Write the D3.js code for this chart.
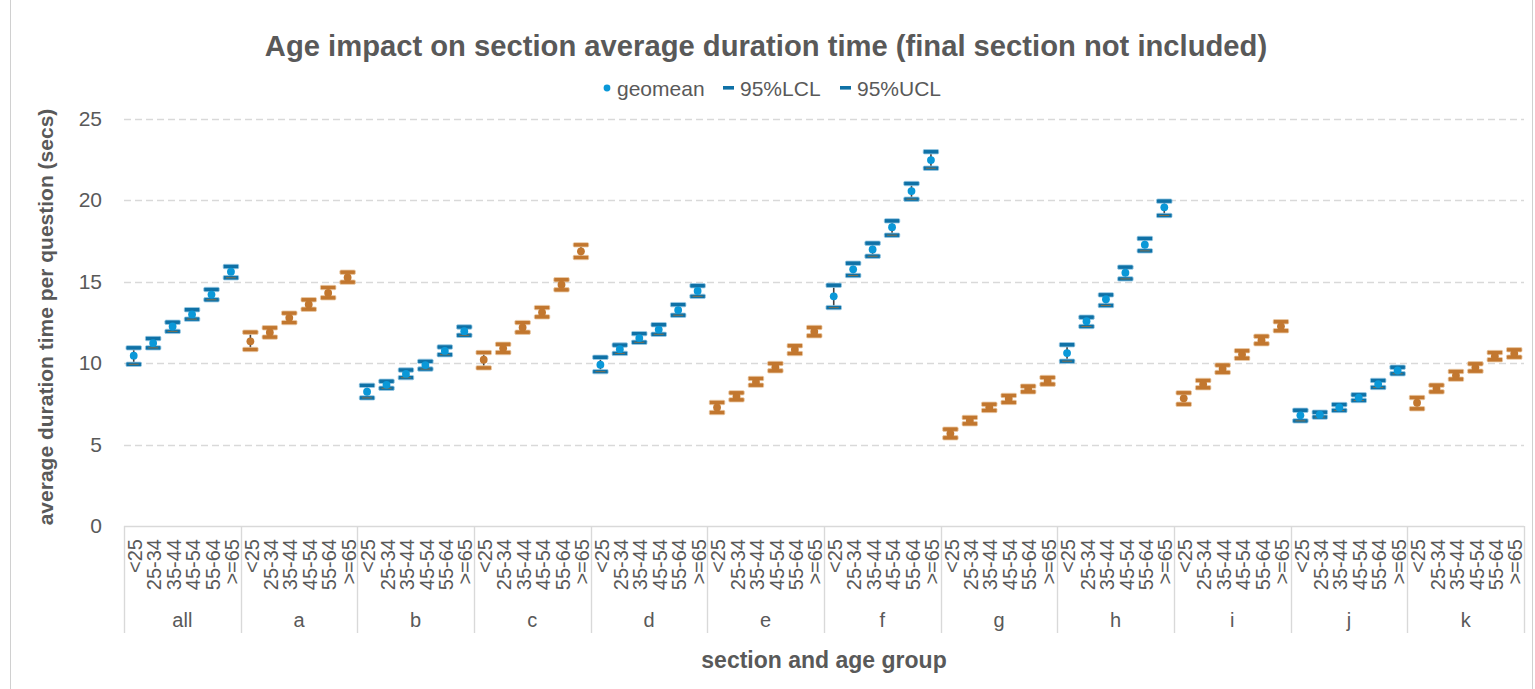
<!DOCTYPE html>
<html>
<head>
<meta charset="utf-8">
<script src="https://cdn.jsdelivr.net/npm/d3@7"></script>
<style>
  html, body { margin: 0; padding: 0; background: #fff; }
  svg { display: block; font-family: "Liberation Sans", Arial, sans-serif; }
</style>
</head>
<body>
<svg id="chart" width="1535" height="689"></svg>
<script>
// Sections and age groups along the category axis
const sections = ["all", "a", "b", "c", "d", "e", "f", "g", "h", "i", "j", "k"];
const ageGroups = ["<25", "25-34", "35-44", "45-54", "55-64", ">=65"];
const yTicks = [0, 5, 10, 15, 20, 25];

// Geometric mean of section duration per question (secs), one row per section
const geomean = [
  [10.45, 11.22, 12.24, 12.98, 14.20, 15.60],
  [11.33, 11.87, 12.77, 13.59, 14.30, 15.25],
  [8.24, 8.66, 9.33, 9.87, 10.74, 11.95],
  [10.20, 10.90, 12.18, 13.10, 14.80, 16.85],
  [9.90, 10.85, 11.53, 12.05, 13.25, 14.42],
  [7.27, 7.95, 8.84, 9.74, 10.82, 11.92],
  [14.09, 15.75, 16.97, 18.33, 20.55, 22.45],
  [5.67, 6.46, 7.28, 7.80, 8.40, 8.90],
  [10.61, 12.56, 13.91, 15.54, 17.26, 19.55],
  [7.83, 8.70, 9.64, 10.52, 11.40, 12.25],
  [6.79, 6.83, 7.27, 7.87, 8.71, 9.54],
  [7.56, 8.43, 9.24, 9.72, 10.42, 10.58]
];

// Lower 95% confidence limit
const lcl95 = [
  [9.92, 10.93, 11.94, 12.69, 13.88, 15.23],
  [10.83, 11.59, 12.48, 13.30, 14.00, 14.96],
  [7.86, 8.45, 9.10, 9.63, 10.51, 11.70],
  [9.70, 10.64, 11.89, 12.83, 14.49, 16.47],
  [9.47, 10.59, 11.27, 11.76, 12.93, 14.09],
  [6.96, 7.74, 8.64, 9.52, 10.58, 11.67],
  [13.40, 15.37, 16.55, 17.84, 20.05, 21.95],
  [5.41, 6.27, 7.09, 7.58, 8.23, 8.70],
  [10.11, 12.24, 13.53, 15.16, 16.88, 19.05],
  [7.47, 8.48, 9.42, 10.29, 11.18, 11.98],
  [6.45, 6.68, 7.09, 7.70, 8.50, 9.34],
  [7.19, 8.23, 9.01, 9.50, 10.20, 10.36]
];

// Upper 95% confidence limit
const ucl95 = [
  [10.93, 11.50, 12.50, 13.27, 14.51, 15.92],
  [11.89, 12.16, 13.06, 13.88, 14.63, 15.57],
  [8.63, 8.88, 9.57, 10.10, 10.98, 12.21],
  [10.64, 11.15, 12.48, 13.40, 15.11, 17.25],
  [10.35, 11.10, 11.80, 12.35, 13.58, 14.74],
  [7.58, 8.17, 9.05, 9.97, 11.06, 12.18],
  [14.77, 16.12, 17.35, 18.72, 21.01, 22.96],
  [5.94, 6.66, 7.47, 8.01, 8.58, 9.11],
  [11.12, 12.81, 14.18, 15.88, 17.64, 19.93],
  [8.17, 8.93, 9.87, 10.75, 11.64, 12.53],
  [7.10, 6.98, 7.45, 8.05, 8.93, 9.74],
  [7.88, 8.64, 9.48, 9.95, 10.64, 10.81]
];

// Flatten into one record per section/age category
const rows = [];
sections.forEach((s, si) => {
  ageGroups.forEach((a, ai) => {
    rows.push({
      key: s + "|" + a, section: s, si, age: a,
      g: geomean[si][ai], lo: lcl95[si][ai], hi: ucl95[si][ai]
    });
  });
});

const svg = d3.select("#chart");
const W = 1535, H = 689;
const plot = { left: 124, right: 1524, top: 118.5, bottom: 526 };
const textColor = "#595959";

// Alternating palettes for sections
const palette = [
  { bar: "#0F71A6", dot: "#0A98D8", inner: "#8B6F45", edge: "#9CCBE6" },
  { bar: "#C2772F", dot: "#C2772F", inner: "#C2772F", edge: "#EBCBA8" }
];

const x = d3.scaleBand().domain(rows.map(d => d.key)).range([plot.left, plot.right]).padding(0);
const xGroup = d3.scaleBand().domain(sections).range([plot.left, plot.right]).padding(0);
const y = d3.scaleLinear().domain([0, 25]).range([plot.bottom, plot.top]);

// outer frame
svg.append("rect")
  .attr("x", 10.5).attr("y", -2).attr("width", 1522).attr("height", H + 4)
  .attr("fill", "none").attr("stroke", "#d0d0d0").attr("stroke-width", 1);

// title
svg.append("text")
  .attr("x", 766).attr("y", 56)
  .attr("text-anchor", "middle")
  .attr("font-size", 29.2).attr("font-weight", "bold").attr("fill", textColor)
  .text("Age impact on section average duration time (final section not included)");

// value axis labels
const yAxis = d3.axisLeft(y).tickValues(yTicks).tickSize(0).tickPadding(22).tickFormat(d3.format("d"));
const gy = svg.append("g").attr("transform", `translate(${plot.left},0)`).call(yAxis);
gy.select(".domain").remove();
gy.selectAll("text").attr("font-size", 21).attr("fill", textColor)
  .attr("font-family", "Liberation Sans, Arial, sans-serif");

// horizontal gridlines (dashed), skipping the baseline
svg.append("g").selectAll("line")
  .data(yTicks.filter(t => t > 0))
  .join("line")
  .attr("x1", plot.left).attr("x2", plot.right)
  .attr("y1", d => Math.round(y(d)) + 0.5).attr("y2", d => Math.round(y(d)) + 0.5)
  .attr("stroke", "#d9d9d9").attr("stroke-width", 1.4)
  .attr("stroke-dasharray", "7,4");

// category axis baseline
svg.append("line")
  .attr("x1", plot.left).attr("x2", plot.right)
  .attr("y1", Math.round(y(0)) + 0.5).attr("y2", Math.round(y(0)) + 0.5)
  .attr("stroke", "#d9d9d9").attr("stroke-width", 1.4);

// section separators in the multi-level category axis
const sepX = sections.map(s => xGroup(s)).concat([plot.right]);
svg.append("g").selectAll("line")
  .data(sepX)
  .join("line")
  .attr("x1", d => Math.round(d) + 0.5).attr("x2", d => Math.round(d) + 0.5)
  .attr("y1", y(0)).attr("y2", 633)
  .attr("stroke", "#d9d9d9").attr("stroke-width", 1.4);

// age labels, rotated
svg.append("g").selectAll("text")
  .data(rows)
  .join("text")
  .attr("transform", d => `translate(${x(d.key) + x.bandwidth() / 2 + 1},539) rotate(-90)`)
  .attr("text-anchor", "end")
  .attr("dy", "0.36em")
  .attr("font-size", 20).attr("fill", textColor)
  .text(d => d.age);

// section labels
svg.append("g").selectAll("text")
  .data(sections)
  .join("text")
  .attr("x", d => xGroup(d) + xGroup.bandwidth() / 2)
  .attr("y", 627)
  .attr("text-anchor", "middle")
  .attr("font-size", 20).attr("fill", textColor)
  .text(d => d);

// axis titles
svg.append("text")
  .attr("x", (plot.left + plot.right) / 2).attr("y", 668)
  .attr("text-anchor", "middle")
  .attr("font-size", 23).attr("font-weight", "bold").attr("fill", textColor)
  .text("section and age group");

svg.append("text")
  .attr("transform", `translate(53,317) rotate(-90)`)
  .attr("text-anchor", "middle")
  .attr("font-size", 21).attr("font-weight", "bold").attr("fill", textColor)
  .text("average duration time per question (secs)");

// confidence interval marks
const marks = svg.append("g");
const cx = d => x(d.key) + x.bandwidth() / 2;
const barW = 15.5, barH = 4.4;

// high-low connector
marks.selectAll("line.hl")
  .data(rows)
  .join("line")
  .attr("class", "hl")
  .attr("x1", cx).attr("x2", cx)
  .attr("y1", d => y(d.hi)).attr("y2", d => y(d.lo))
  .attr("stroke", "#404040").attr("stroke-width", 1.6);

// UCL dashes
marks.selectAll("rect.ucl")
  .data(rows)
  .join("rect")
  .attr("class", "ucl")
  .attr("x", d => cx(d) - barW / 2).attr("y", d => y(d.hi) - barH / 2)
  .attr("width", barW).attr("height", barH).attr("rx", 1.2)
  .attr("fill", d => palette[d.si % 2].bar)
  .attr("stroke", d => palette[d.si % 2].edge).attr("stroke-width", 0.8);

// LCL dashes
marks.selectAll("rect.lcl")
  .data(rows)
  .join("rect")
  .attr("class", "lcl")
  .attr("x", d => cx(d) - barW / 2).attr("y", d => y(d.lo) - barH / 2)
  .attr("width", barW).attr("height", barH).attr("rx", 1.2)
  .attr("fill", d => palette[d.si % 2].bar)
  .attr("stroke", d => palette[d.si % 2].edge).attr("stroke-width", 0.8);

marks.selectAll("line.lclin")
  .data(rows)
  .join("line")
  .attr("class", "lclin")
  .attr("x1", d => cx(d) - 5).attr("x2", d => cx(d) + 5)
  .attr("y1", d => y(d.lo)).attr("y2", d => y(d.lo))
  .attr("stroke", d => palette[d.si % 2].inner).attr("stroke-width", 0.9);

// geomean points
marks.selectAll("circle.gm")
  .data(rows)
  .join("circle")
  .attr("class", "gm")
  .attr("cx", cx).attr("cy", d => y(d.g))
  .attr("r", 3.9)
  .attr("fill", d => palette[d.si % 2].dot);

// legend
const legend = svg.append("g").attr("font-size", 21).attr("fill", textColor);
legend.append("circle").attr("cx", 607).attr("cy", 88).attr("r", 3.4).attr("fill", palette[0].dot);
legend.append("text").attr("x", 617).attr("y", 95.5).text("geomean");
legend.append("rect").attr("x", 723).attr("y", 86).attr("width", 11).attr("height", 3.6).attr("fill", palette[0].bar);
legend.append("text").attr("x", 740).attr("y", 95.5).text("95%LCL");
legend.append("rect").attr("x", 840).attr("y", 86).attr("width", 11).attr("height", 3.6).attr("fill", palette[0].bar);
legend.append("text").attr("x", 857).attr("y", 95.5).text("95%UCL");
</script>
</body>
</html>
